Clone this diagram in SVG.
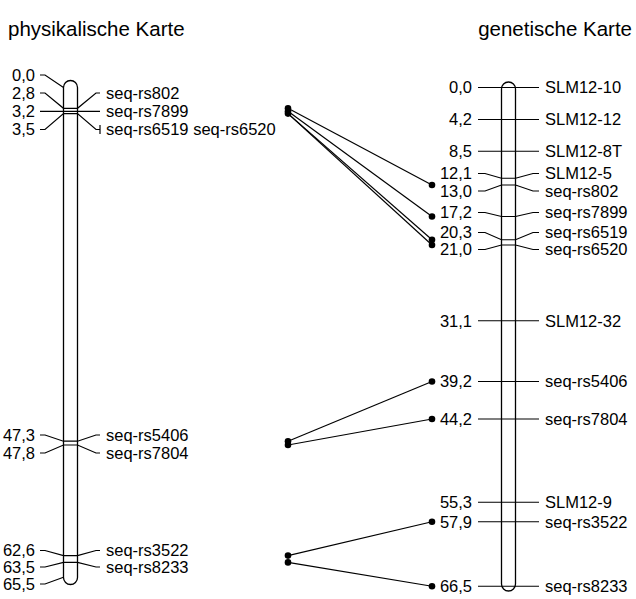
<svg xmlns="http://www.w3.org/2000/svg" width="636" height="599" viewBox="0 0 636 599">
<style>
.ln{stroke:#000;stroke-width:1.2;fill:none}
.bar{stroke:#000;stroke-width:1.3;fill:#fff}
.t{font-family:"Liberation Sans",Arial,sans-serif;font-size:16.5px;fill:#000}
.r{text-anchor:end}
.ti{font-family:"Liberation Sans",Arial,sans-serif;font-size:20.5px;fill:#000}
.dot{fill:#000}
</style>
<rect width="636" height="599" fill="#fff"/>
<text class="ti" x="8" y="36">physikalische Karte</text>
<text class="ti r" x="632" y="36">genetische Karte</text>

<g id="chr-phys">
<rect class="bar" x="63.5" y="80.5" width="14" height="504" rx="7" ry="7"/>
<polyline class="ln" points="40,75 45,75 63.5,87.4"/>
<polyline class="ln" points="40,93 45,93 63.5,108.3 77.5,108.3 96,93 100,93"/>
<polyline class="ln" points="40,111.3 100,111.3"/>
<polyline class="ln" points="40,129.5 45,129.5 63.5,113.6 77.5,113.6 96,129.5 100,129.5"/>
<line class="ln" x1="100" y1="125" x2="100" y2="134"/>
<polyline class="ln" points="40,435 45,435 63.5,441.2 77.5,441.2 96,435 100,435"/>
<polyline class="ln" points="40,453 45,453 63.5,445 77.5,445 96,453 100,453"/>
<polyline class="ln" points="40,550.5 45,550.5 63.5,555.6 77.5,555.6 96,550.5 100,550.5"/>
<polyline class="ln" points="40,567 45,567 63.5,562.4 77.5,562.4 96,567 100,567"/>
<polyline class="ln" points="40,584 45,584 63.5,577.3"/>
<text class="t r" x="35" y="80.8">0,0</text>
<text class="t r" x="35" y="98.8">2,8</text>
<text class="t r" x="35" y="117.1">3,2</text>
<text class="t r" x="35" y="135.3">3,5</text>
<text class="t r" x="35" y="440.8">47,3</text>
<text class="t r" x="35" y="458.8">47,8</text>
<text class="t r" x="35" y="556.3">62,6</text>
<text class="t r" x="35" y="572.8">63,5</text>
<text class="t r" x="35" y="589.8">65,5</text>
<text class="t" x="106" y="98.8">seq-rs802</text>
<text class="t" x="106" y="117.1">seq-rs7899</text>
<text class="t" x="106" y="135.3">seq-rs6519 seq-rs6520</text>
<text class="t" x="106" y="440.8">seq-rs5406</text>
<text class="t" x="106" y="458.8">seq-rs7804</text>
<text class="t" x="106" y="556.3">seq-rs3522</text>
<text class="t" x="106" y="572.8">seq-rs8233</text>
</g>

<g id="chr-gen">
<rect class="bar" x="501.5" y="82" width="14" height="509" rx="7" ry="7"/>
<polyline class="ln" points="478,87.5 539,87.5"/>
<polyline class="ln" points="478,119.5 539,119.5"/>
<polyline class="ln" points="478,151.25 539,151.25"/>
<polyline class="ln" points="478,173.5 485,173.5 501.5,178.25 515.5,178.25 533,173.5 539,173.5"/>
<polyline class="ln" points="478,191 485,191 501.5,185 515.5,185 533,191 539,191"/>
<polyline class="ln" points="478,212.5 485,212.5 501.5,216.5 515.5,216.5 533,212.5 539,212.5"/>
<polyline class="ln" points="478,232.5 485,232.5 501.5,239.75 515.5,239.75 533,232.5 539,232.5"/>
<polyline class="ln" points="478,249.5 485,249.5 501.5,245 515.5,245 533,249.5 539,249.5"/>
<polyline class="ln" points="478,320.75 539,320.75"/>
<polyline class="ln" points="478,381.5 539,381.5"/>
<polyline class="ln" points="478,419 539,419"/>
<polyline class="ln" points="478,502.25 539,502.25"/>
<polyline class="ln" points="478,521.75 539,521.75"/>
<polyline class="ln" points="478,586.25 539,586.25"/>
<text class="t r" x="472" y="93.3">0,0</text>
<text class="t r" x="472" y="125.3">4,2</text>
<text class="t r" x="472" y="157">8,5</text>
<text class="t r" x="472" y="179.3">12,1</text>
<text class="t r" x="472" y="196.8">13,0</text>
<text class="t r" x="472" y="218.3">17,2</text>
<text class="t r" x="472" y="238.3">20,3</text>
<text class="t r" x="472" y="255.3">21,0</text>
<text class="t r" x="472" y="326.5">31,1</text>
<text class="t r" x="472" y="387.3">39,2</text>
<text class="t r" x="472" y="424.8">44,2</text>
<text class="t r" x="472" y="508">55,3</text>
<text class="t r" x="472" y="527.5">57,9</text>
<text class="t r" x="472" y="592">66,5</text>
<text class="t" x="545" y="93.3">SLM12-10</text>
<text class="t" x="545" y="125.3">SLM12-12</text>
<text class="t" x="545" y="157">SLM12-8T</text>
<text class="t" x="545" y="179.3">SLM12-5</text>
<text class="t" x="545" y="196.8">seq-rs802</text>
<text class="t" x="545" y="218.3">seq-rs7899</text>
<text class="t" x="545" y="238.3">seq-rs6519</text>
<text class="t" x="545" y="255.3">seq-rs6520</text>
<text class="t" x="545" y="326.5">SLM12-32</text>
<text class="t" x="545" y="387.3">seq-rs5406</text>
<text class="t" x="545" y="424.8">seq-rs7804</text>
<text class="t" x="545" y="508">SLM12-9</text>
<text class="t" x="545" y="527.5">seq-rs3522</text>
<text class="t" x="545" y="592">seq-rs8233</text>
</g>

<g id="connectors">
<line class="ln" x1="288" y1="108.3" x2="432" y2="185"/>
<line class="ln" x1="288" y1="111.3" x2="432" y2="216.5"/>
<line class="ln" x1="288" y1="113.6" x2="432" y2="239.75"/>
<line class="ln" x1="288" y1="113.6" x2="432" y2="245"/>
<line class="ln" x1="288" y1="441.2" x2="432" y2="381.5"/>
<line class="ln" x1="288" y1="445" x2="432" y2="419"/>
<line class="ln" x1="288" y1="555.6" x2="432" y2="521.75"/>
<line class="ln" x1="288" y1="562.4" x2="432" y2="586.25"/>
<circle class="dot" cx="288" cy="108.3" r="3.3"/>
<circle class="dot" cx="288" cy="111.3" r="3.3"/>
<circle class="dot" cx="288" cy="113.6" r="3.3"/>
<circle class="dot" cx="288" cy="441.2" r="3.3"/>
<circle class="dot" cx="288" cy="445" r="3.3"/>
<circle class="dot" cx="288" cy="555.6" r="3.3"/>
<circle class="dot" cx="288" cy="562.4" r="3.3"/>
<circle class="dot" cx="432" cy="185" r="3.3"/>
<circle class="dot" cx="432" cy="216.5" r="3.3"/>
<circle class="dot" cx="432" cy="239.75" r="3.3"/>
<circle class="dot" cx="432" cy="245" r="3.3"/>
<circle class="dot" cx="432" cy="381.5" r="3.3"/>
<circle class="dot" cx="432" cy="419" r="3.3"/>
<circle class="dot" cx="432" cy="521.75" r="3.3"/>
<circle class="dot" cx="432" cy="586.25" r="3.3"/>
</g>
</svg>
